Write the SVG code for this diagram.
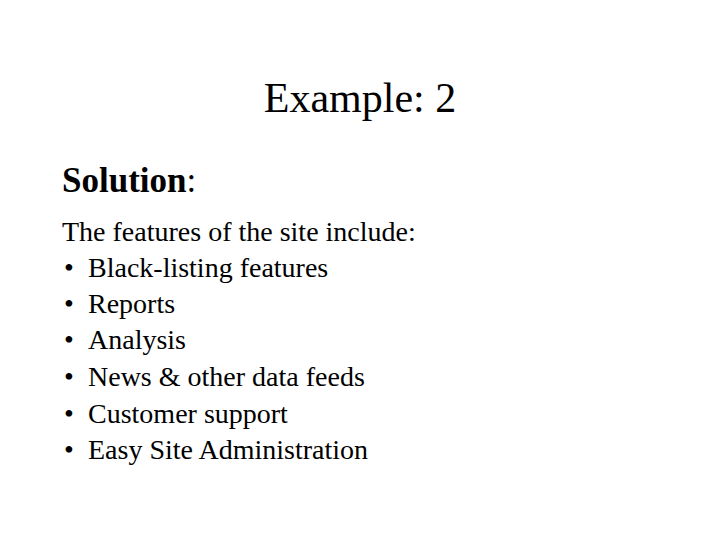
<svg xmlns="http://www.w3.org/2000/svg" width="720" height="540" viewBox="0 0 720 540">
<style>text{font-family:"Liberation Serif",serif;fill:#000}.b{font-size:28px}</style>
<rect width="720" height="540" fill="#fff"/>
<text x="360" y="112" font-size="42" text-anchor="middle">Example: 2</text>
<text x="62" y="192" font-size="35"><tspan font-weight="bold">Solution</tspan>:</text>
<text class="b" x="62" y="241">The features of the site include:</text>
<g class="b">
<text x="64" y="277">•</text><text x="88" y="277">Black-listing features</text>
<text x="64" y="313">•</text><text x="88" y="313">Reports</text>
<text x="64" y="349">•</text><text x="88" y="349">Analysis</text>
<text x="64" y="386">•</text><text x="88" y="386">News &amp; other data feeds</text>
<text x="64" y="423">•</text><text x="88" y="423">Customer support</text>
<text x="64" y="459">•</text><text x="88" y="459">Easy Site Administration</text>
</g>
</svg>
